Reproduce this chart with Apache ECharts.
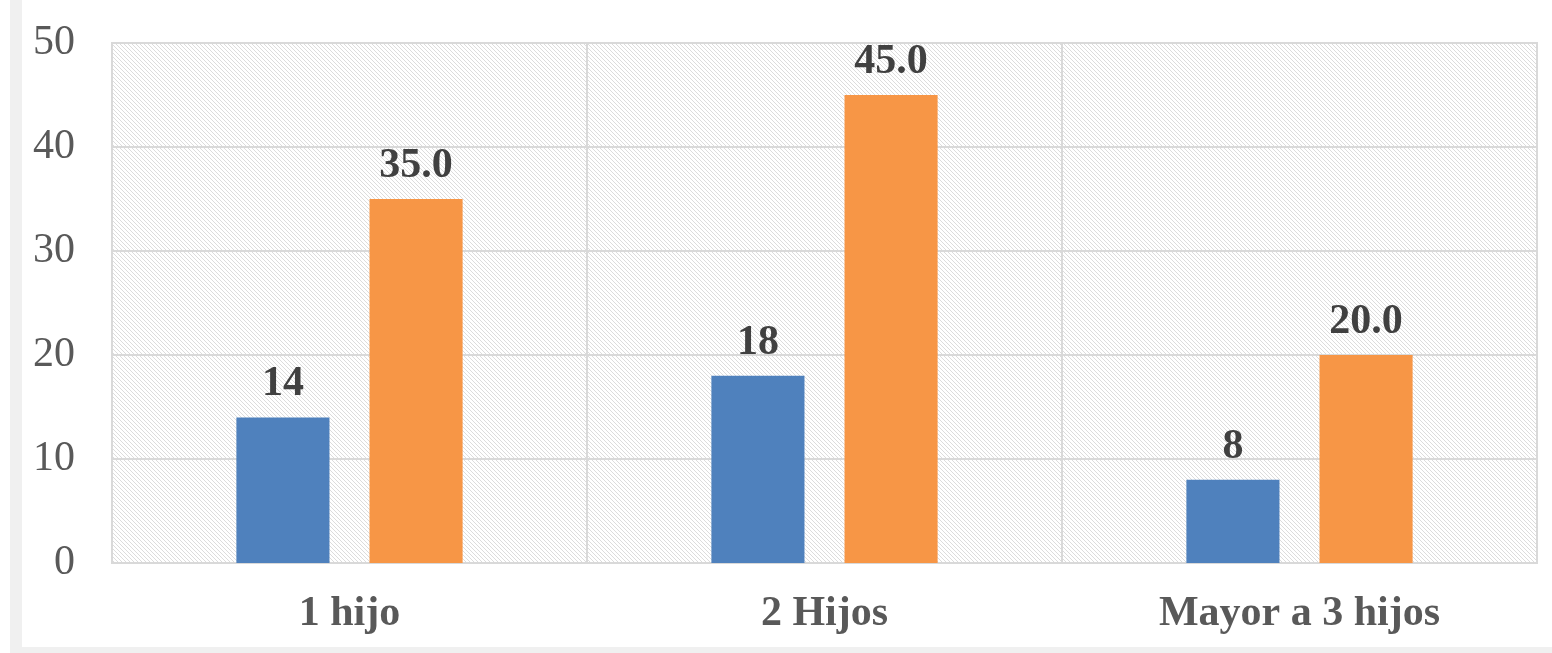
<!DOCTYPE html>
<html>
<head>
<meta charset="utf-8">
<script src="https://cdn.jsdelivr.net/npm/echarts@6/dist/echarts.min.js"></script>
<style>
  html, body { margin: 0; padding: 0; background: #ffffff; }
  #frame-left { position: absolute; left: 10px; top: 0; width: 12px; height: 653px; background: #f0f0f0; }
  #frame-bottom { position: absolute; left: 10px; top: 647px; width: 1542px; height: 6px; background: #f0f0f0; }
  #chart { position: absolute; left: 0; top: 0; width: 1552px; height: 653px; }
</style>
</head>
<body>
<div id="chart"></div>
<div id="frame-left"></div>
<div id="frame-bottom"></div>
<script>
// Categories and values
const categories = ['1 hijo', '2 Hijos', 'Mayor a 3 hijos'];
const countValues = [14, 18, 8];
const percentValues = [35.0, 45.0, 20.0];
const yTicks = { min: 0, max: 50, interval: 10 };

// Diagonal hatch fill for the plot area
function makeHatch() {
  const c = document.createElement('canvas');
  c.width = 4; c.height = 4;
  const ctx = c.getContext('2d');
  ctx.fillStyle = '#ffffff';
  ctx.fillRect(0, 0, 4, 4);
  ctx.fillStyle = '#dcdcdc';
  for (let i = 0; i < 4; i++) ctx.fillRect(i, i, 1, 1);
  return c;
}

const chart = echarts.init(document.getElementById('chart'), null, { renderer: 'canvas' });

const serif = '"Liberation Serif", "Times New Roman", serif';

chart.setOption({
  animation: false,
  backgroundColor: 'transparent',
  grid: {
    left: 112, right: 15, top: 43, bottom: 90,
    show: true,
    borderColor: '#d9d9d9',
    borderWidth: 2,
    backgroundColor: { image: makeHatch(), repeat: 'repeat' }
  },
  xAxis: {
    type: 'category',
    data: categories,
    axisLine: { show: true, lineStyle: { color: '#d9d9d9', width: 2 } },
    axisTick: { show: false },
    splitLine: { show: true, lineStyle: { color: '#d9d9d9', width: 2 } },
    axisLabel: {
      margin: 30,
      fontFamily: serif,
      fontSize: 42,
      fontWeight: 'bold',
      color: '#595959'
    }
  },
  yAxis: {
    type: 'value',
    min: yTicks.min, max: yTicks.max, interval: yTicks.interval,
    axisLine: { show: false },
    axisTick: { show: false },
    splitLine: { show: true, lineStyle: { color: '#d9d9d9', width: 2 } },
    axisLabel: {
      margin: 37,
      fontFamily: serif,
      fontSize: 42,
      color: '#595959'
    }
  },
  series: [
    {
      type: 'bar',
      data: countValues,
      barWidth: '19.6%',
      barGap: '43%',
      itemStyle: { color: '#4f81bd' },
      label: {
        show: true, position: 'top', distance: 12,
        fontFamily: serif, fontSize: 42, fontWeight: 'bold', color: '#404040',
        formatter: p => String(p.value)
      }
    },
    {
      type: 'bar',
      data: percentValues,
      barWidth: '19.6%',
      barGap: '43%',
      itemStyle: { color: '#f79646' },
      label: {
        show: true, position: 'top', distance: 12,
        fontFamily: serif, fontSize: 42, fontWeight: 'bold', color: '#404040',
        formatter: p => p.value.toFixed(1)
      }
    }
  ]
});
</script>
</body>
</html>
